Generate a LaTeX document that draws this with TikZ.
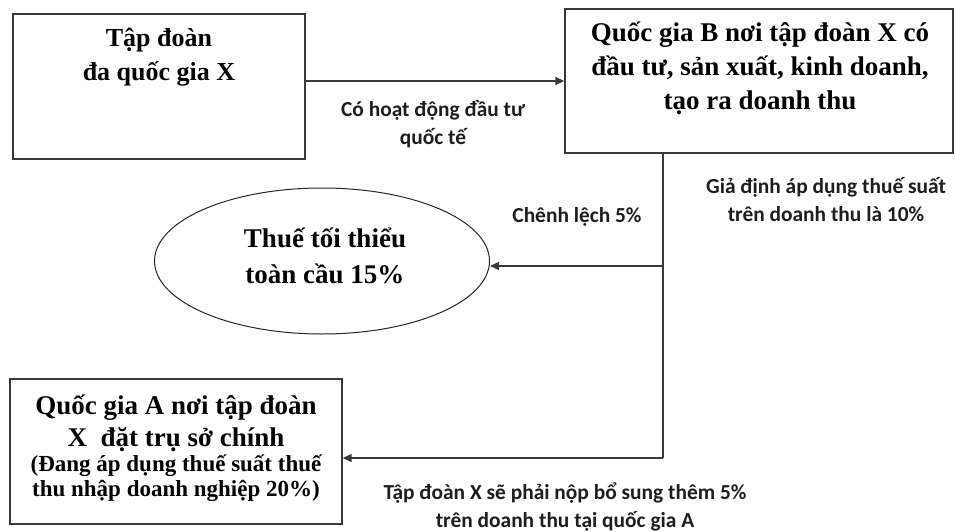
\documentclass[tikz,border=0pt]{standalone}
\usepackage{fontspec}
\setmainfont{Liberation Serif}
\newfontfamily\labfont{Carlito}
\usetikzlibrary{arrows.meta,shapes.geometric}
\definecolor{linegray}{HTML}{3A3A3A}
\definecolor{labgray}{HTML}{1E1E1E}
\begin{document}
\begin{tikzpicture}[x=1pt,y=-1pt,
  box/.style={draw=linegray,line width=1.4pt,rectangle,inner sep=0pt},
  oval/.style={draw=black!85,line width=1pt,ellipse,inner sep=0pt},
  bigtext/.style={align=center,inner sep=0pt,font=\bfseries\fontsize{27}{34}\selectfont},
  smalltext/.style={align=center,inner sep=0pt,font=\bfseries\fontsize{23}{25}\selectfont},
  lab/.style={align=center,inner sep=0pt,text=labgray,font=\labfont\bfseries\fontsize{21.4}{28}\selectfont},
  conn/.style={draw=linegray,line width=1.5pt},
  arr/.style={conn,-{Triangle[length=9pt,width=8pt]}}]
\useasboundingbox (0,0) rectangle (955,532);
\fill[white] (0,0) rectangle (955,532);
% boxes
\node[box,minimum width=292pt,minimum height=145pt] (X) at (159,86.5) {};
\node[bigtext,font=\bfseries\fontsize{26}{34}\selectfont] (Xt) at (159,57) {Tập đoàn\\đa quốc gia X};
\node[box,minimum width=388pt,minimum height=144pt] (B) at (759,81) {};
\node[bigtext] (Bt) at (760,68) {Quốc gia B nơi tập đoàn X có\\đầu tư, sản xuất, kinh doanh,\\tạo ra doanh thu};
\node[oval,minimum width=335pt,minimum height=146pt] (E) at (322,261) {};
\node[bigtext,font=\bfseries\fontsize{27}{36}\selectfont] (Et) at (325,256) {Thuế tối thiểu\\toàn cầu 15\%};
\node[box,minimum width=332pt,minimum height=145pt] (A) at (176,451.5) {};
\node[bigtext,font=\bfseries\fontsize{27}{32}\selectfont] (At1) at (176,423) {Quốc gia A nơi tập đoàn\\X\ \ đặt trụ sở chính};
\node[smalltext] (At2) at (176,478) {(Đang áp dụng thuế suất thuế\\thu nhập doanh nghiệp 20\%)};
% connectors
\coordinate (j1) at (663,266);
\coordinate (j2) at (663,458);
\draw[arr] (X.east |- B.west) -- (B.west);
\draw[conn] (B.south -| j1) -- (j2);
\draw[arr] (j1) -- (j1 -| E.east);
\draw[arr] (j2) -- (j2 -| A.east);
% labels
\node[lab] (L1) at (433,124) {Có hoạt động đầu tư\\quốc tế};
\node[lab] (L2) at (577,217) {Chênh lệch 5\%};
\node[lab] (L3) at (826,200) {Giả định áp dụng thuế suất\\trên doanh thu là 10\%};
\node[lab] (L4) at (565,507) {Tập đoàn X sẽ phải nộp bổ sung thêm 5\%\\trên doanh thu tại quốc gia A};
\end{tikzpicture}
\end{document}
